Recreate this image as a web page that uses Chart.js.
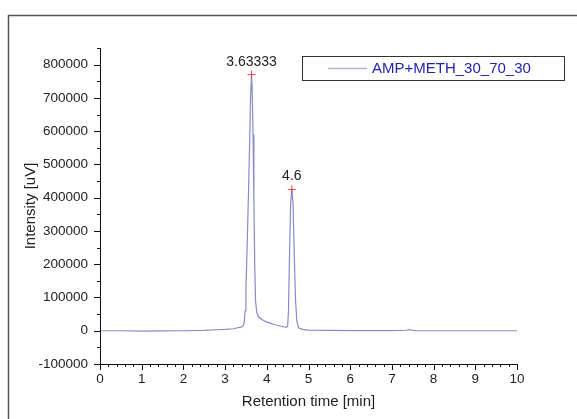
<!DOCTYPE html>
<html>
<head>
<meta charset="utf-8">
<script src="https://cdn.jsdelivr.net/npm/chart.js@4/dist/chart.umd.min.js"></script>
<style>
  html,body{margin:0;padding:0;background:#fff;}
  #wrap{width:577px;height:419px;position:relative;}
</style>
</head>
<body>
<div id="wrap"><canvas id="c" width="577" height="419"></canvas></div>
<script>
// ---- data ----
const seriesName = "AMP+METH_30_70_30";
const times = [0, 0.5, 1, 1.5, 2, 2.5, 2.8, 3.0, 3.2, 3.3, 3.38, 3.43, 3.46, 3.48, 3.50, 3.53, 3.56, 3.59, 3.61, 3.63333, 3.65, 3.67, 3.69, 3.71, 3.73, 3.76, 3.80, 3.9, 4.0, 4.1, 4.2, 4.3, 4.4, 4.47, 4.50, 4.52, 4.54, 4.57, 4.60, 4.63, 4.66, 4.69, 4.72, 4.76, 4.85, 5.0, 5.5, 6, 6.5, 7, 7.35, 7.42, 7.5, 7.6, 8, 9, 10];
const intensity = [0, 0, -1000, -500, 0, 1000, 3000, 4000, 6000, 9000, 11000, 14000, 25000, 60000, 130000, 260000, 410000, 570000, 700000, 770000, 720000, 590000, 400000, 200000, 90000, 55000, 42000, 32000, 26000, 22000, 18000, 15000, 12000, 10000, 14000, 60000, 200000, 380000, 425000, 380000, 220000, 90000, 30000, 9000, 4000, 2000, 1000, 500, 500, 500, 1500, 3500, 1000, 0, 0, 0, 0];
const peakTimes = [3.63333, 4.6];
const peakValues = [770000, 425000];
const peakLabels = ["3.63333", "4.6"];
const xTickValues = [0,1,2,3,4,5,6,7,8,9,10];
const yTickValues = [-100000,0,100000,200000,300000,400000,500000,600000,700000,800000];
const xTitle = "Retention time [min]";
const yTitle = "Intensity [uV]";

const FONT = "'Liberation Sans', Arial, sans-serif";

const decor = {
  id: 'decor',
  afterDraw(chart) {
    const ctx = chart.ctx;
    const xs = chart.scales.x, ys = chart.scales.y;
    const a = chart.chartArea;
    ctx.save();
    // outer frame (top + left)
    ctx.strokeStyle = '#555';
    ctx.lineWidth = 1.5;
    ctx.beginPath();
    ctx.moveTo(577, 15.5); ctx.lineTo(8.5, 15.5); ctx.lineTo(8.5, 419);
    ctx.stroke();

    // axes lines
    ctx.strokeStyle = '#111';
    ctx.lineWidth = 1;
    ctx.beginPath();
    ctx.moveTo(a.left + 0.5, a.top); ctx.lineTo(a.left + 0.5, a.bottom + 0.5);
    ctx.lineTo(a.right, a.bottom + 0.5);
    ctx.stroke();

    // x ticks (major + minor)
    ctx.beginPath();
    for (let i = 0; i <= 50; i++) {
      const v = i * 0.2;
      const px = Math.round(xs.getPixelForValue(v)) + 0.5;
      const len = (i % 5 === 0) ? 6 : 3;
      ctx.moveTo(px, a.bottom); ctx.lineTo(px, a.bottom + len);
    }
    // y ticks
    for (let i = -2; i <= 17; i++) {
      const v = i * 50000;
      const py = Math.round(ys.getPixelForValue(v)) + 0.5;
      const len = (i % 2 === 0) ? 6 : 3;
      ctx.moveTo(a.left, py); ctx.lineTo(a.left - len, py);
    }
    ctx.stroke();

    // tick labels
    ctx.fillStyle = '#222';
    ctx.font = '13.5px ' + FONT;
    ctx.textAlign = 'center';
    ctx.textBaseline = 'middle';
    xTickValues.forEach(v => {
      ctx.fillText(String(v), xs.getPixelForValue(v), 379);
    });
    ctx.textAlign = 'right';
    yTickValues.forEach(v => {
      ctx.fillText(String(v), 88, ys.getPixelForValue(v));
    });

    // axis titles
    ctx.font = '15px ' + FONT;
    ctx.textAlign = 'center';
    ctx.fillText(xTitle, (a.left + a.right) / 2, 402);
    ctx.save();
    ctx.translate(31, (a.top + a.bottom) / 2);
    ctx.rotate(-Math.PI / 2);
    ctx.fillText(yTitle, 0, 0);
    ctx.restore();

    // peak labels
    ctx.font = '14px ' + FONT;
    ctx.textAlign = 'center';
    ctx.textBaseline = 'alphabetic';
    peakTimes.forEach((t, i) => {
      ctx.fillText(peakLabels[i], xs.getPixelForValue(t), ys.getPixelForValue(peakValues[i]) - 9);
    });

    // legend box
    ctx.strokeStyle = '#333';
    ctx.lineWidth = 1;
    ctx.strokeRect(302.5, 56.5, 262, 24);
    ctx.strokeStyle = '#b4b4d8';
    ctx.lineWidth = 1.5;
    ctx.beginPath(); ctx.moveTo(328, 68.5); ctx.lineTo(367, 68.5); ctx.stroke();
    ctx.fillStyle = '#2323b0';
    ctx.font = '15px ' + FONT;
    ctx.textAlign = 'left';
    ctx.textBaseline = 'middle';
    ctx.fillText(seriesName, 372, 69);
    ctx.restore();
  }
};

new Chart(document.getElementById('c'), {
  type: 'scatter',
  data: {
    datasets: [
      {
        label: seriesName,
        data: times.map((t, i) => ({x: t, y: intensity[i]})),
        showLine: true,
        borderColor: '#8a8ac8',
        borderWidth: 1.2,
        pointRadius: 0,
        tension: 0,
        order: 2
      },
      {
        label: 'peaks',
        data: peakTimes.map((t, i) => ({x: t, y: peakValues[i]})),
        showLine: false,
        pointStyle: 'cross',
        pointRadius: 4,
        borderColor: '#e04040',
        borderWidth: 1,
        order: 1
      }
    ]
  },
  options: {
    responsive: false,
    animation: false,
    devicePixelRatio: 1,
    layout: { padding: { left: 0, top: 48, right: 60, bottom: 0 } },
    plugins: { legend: { display: false }, tooltip: { enabled: false } },
    scales: {
      x: {
        type: 'linear', min: 0, max: 10,
        grid: { display: false, drawTicks: false },
        border: { display: false },
        ticks: { display: false },
        afterFit(s) { s.height = 55; }
      },
      y: {
        type: 'linear', min: -100000, max: 850000,
        grid: { display: false, drawTicks: false },
        border: { display: false },
        ticks: { display: false },
        afterFit(s) { s.width = 100; }
      }
    }
  },
  plugins: [decor]
});
</script>
</body>
</html>
